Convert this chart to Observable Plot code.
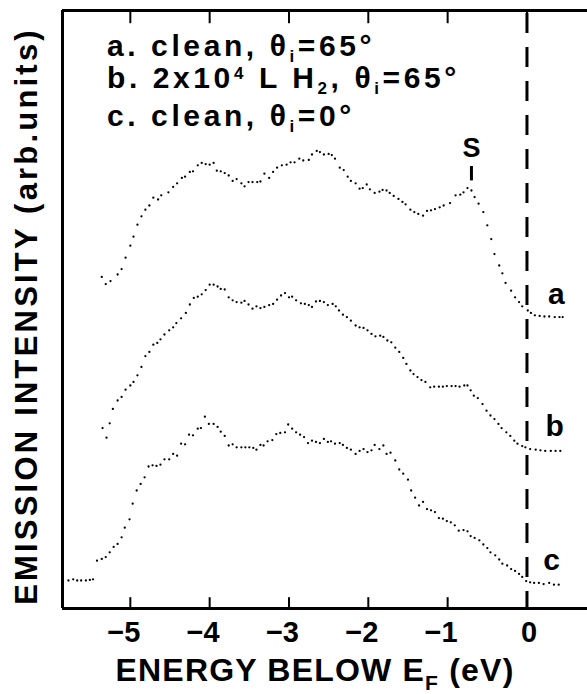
<!DOCTYPE html>
<html><head><meta charset="utf-8">
<script src="https://cdn.jsdelivr.net/npm/d3@7"></script>
<script src="https://cdn.jsdelivr.net/npm/@observablehq/plot@0.6"></script>
<style>html,body{margin:0;padding:0;background:#fff;} svg{display:block}</style>
</head><body><div id="chart"></div>
<script>
// Energy below E_F (eV), emission intensity (arb. units)
const curveA = [[-5.36,55.6],[-5.31,54.4],[-5.25,54.9],[-5.16,56.0],[-5.11,56.9],[-5.06,58.8],[-5.00,60.8],[-4.96,62.3],[-4.91,64.3],[-4.86,65.7],[-4.81,66.8],[-4.76,67.5],[-4.71,68.8],[-4.65,68.5],[-4.61,69.2],[-4.52,69.7],[-4.46,70.6],[-4.41,71.2],[-4.35,72.1],[-4.31,72.3],[-4.25,73.1],[-4.21,73.2],[-4.15,74.2],[-4.10,74.6],[-4.05,74.4],[-4.00,74.3],[-3.95,74.6],[-3.91,73.3],[-3.86,73.2],[-3.81,72.9],[-3.76,72.5],[-3.71,71.6],[-3.66,71.9],[-3.60,71.2],[-3.56,70.7],[-3.51,71.4],[-3.46,71.4],[-3.40,71.4],[-3.36,71.5],[-3.31,72.8],[-3.25,72.1],[-3.20,73.1],[-3.15,73.8],[-3.09,74.2],[-3.03,74.3],[-2.98,74.7],[-2.93,74.7],[-2.87,75.3],[-2.82,75.0],[-2.75,75.1],[-2.71,76.0],[-2.65,76.6],[-2.61,76.4],[-2.56,76.0],[-2.50,76.1],[-2.46,75.9],[-2.42,75.3],[-2.36,73.8],[-2.31,73.4],[-2.26,72.3],[-2.22,71.6],[-2.16,71.2],[-2.11,70.3],[-2.07,70.4],[-2.02,71.0],[-1.98,70.2],[-1.92,69.6],[-1.86,69.8],[-1.82,70.1],[-1.77,70.0],[-1.73,69.6],[-1.68,69.1],[-1.62,68.6],[-1.57,68.1],[-1.53,67.7],[-1.47,66.8],[-1.42,66.4],[-1.37,66.1],[-1.31,65.8],[-1.26,66.6],[-1.21,66.7],[-1.16,66.9],[-1.10,67.2],[-1.05,67.5],[-0.97,67.9],[-0.90,69.2],[-0.84,69.3],[-0.80,69.7],[-0.75,70.4],[-0.70,70.0],[-0.66,68.9],[-0.61,67.8],[-0.55,66.4],[-0.50,64.2],[-0.45,61.9],[-0.41,59.4],[-0.35,57.5],[-0.31,56.2],[-0.27,54.6],[-0.20,53.3],[-0.15,52.2],[-0.10,51.4],[-0.06,50.7],[0.01,50.0],[0.05,49.6],[0.10,49.2],[0.16,49.1],[0.22,49.0],[0.28,49.0],[0.35,48.9],[0.41,48.9],[0.45,48.9]];
const curveB = [[-5.35,30.4],[-5.30,28.8],[-5.26,31.2],[-5.22,33.6],[-5.16,35.0],[-5.11,35.6],[-5.06,36.8],[-5.00,37.5],[-4.96,38.1],[-4.91,39.2],[-4.86,40.6],[-4.81,42.4],[-4.76,43.1],[-4.71,44.3],[-4.66,44.6],[-4.62,45.2],[-4.57,46.0],[-4.51,46.7],[-4.46,47.2],[-4.42,47.9],[-4.36,48.7],[-4.30,49.6],[-4.25,51.0],[-4.20,52.1],[-4.15,52.3],[-4.10,52.7],[-4.05,53.4],[-4.00,54.3],[-3.95,54.3],[-3.90,54.0],[-3.86,53.6],[-3.81,53.5],[-3.76,52.2],[-3.71,51.7],[-3.66,51.4],[-3.60,51.3],[-3.56,51.6],[-3.51,51.0],[-3.46,50.3],[-3.41,50.7],[-3.36,50.4],[-3.31,50.6],[-3.25,50.9],[-3.20,51.1],[-3.15,51.8],[-3.10,52.5],[-3.05,52.9],[-3.00,52.2],[-2.96,52.3],[-2.91,51.7],[-2.85,51.2],[-2.80,51.1],[-2.75,50.9],[-2.71,50.6],[-2.66,51.5],[-2.61,51.6],[-2.56,51.4],[-2.51,50.9],[-2.45,51.1],[-2.41,50.7],[-2.37,50.0],[-2.32,49.3],[-2.27,48.9],[-2.22,48.3],[-2.16,47.5],[-2.11,47.2],[-2.06,47.1],[-2.01,46.7],[-1.96,46.1],[-1.91,45.7],[-1.85,45.8],[-1.81,45.6],[-1.76,45.0],[-1.71,44.7],[-1.66,43.8],[-1.61,43.1],[-1.56,42.1],[-1.52,41.1],[-1.47,40.0],[-1.43,39.4],[-1.38,38.9],[-1.33,38.4],[-1.28,38.1],[-1.22,37.2],[-1.17,37.3],[-1.11,37.3],[-1.06,37.3],[-1.01,37.4],[-0.95,37.4],[-0.90,37.4],[-0.85,37.3],[-0.79,37.5],[-0.75,37.5],[-0.71,36.7],[-0.67,35.8],[-0.62,35.4],[-0.56,34.4],[-0.51,33.3],[-0.46,32.5],[-0.41,31.9],[-0.36,31.1],[-0.32,30.4],[-0.26,29.7],[-0.21,29.1],[-0.16,28.3],[-0.12,27.8],[-0.06,27.4],[-0.02,27.2],[0.04,26.9],[0.11,26.8],[0.17,26.7],[0.23,26.6],[0.30,26.6],[0.36,26.6],[0.42,26.6]];
const curveC = [[-5.78,5.0],[-5.72,5.2],[-5.67,5.0],[-5.62,5.0],[-5.56,5.0],[-5.51,5.1],[-5.47,5.2],[-5.42,8.3],[-5.36,8.6],[-5.31,8.9],[-5.26,9.7],[-5.21,10.6],[-5.16,11.1],[-5.11,12.2],[-5.07,13.8],[-5.01,15.2],[-4.97,17.8],[-4.92,20.0],[-4.87,21.1],[-4.82,22.2],[-4.77,24.0],[-4.72,24.2],[-4.67,24.1],[-4.62,24.3],[-4.57,25.2],[-4.51,25.2],[-4.46,26.1],[-4.41,25.8],[-4.36,27.8],[-4.31,27.7],[-4.26,29.3],[-4.21,29.2],[-4.15,30.3],[-4.11,30.4],[-4.06,32.3],[-4.01,31.1],[-3.95,31.1],[-3.90,30.6],[-3.86,29.8],[-3.81,29.1],[-3.76,27.5],[-3.71,27.7],[-3.66,27.2],[-3.60,27.2],[-3.55,27.2],[-3.50,27.2],[-3.45,27.1],[-3.41,26.8],[-3.36,27.6],[-3.32,27.5],[-3.27,28.2],[-3.21,28.4],[-3.16,29.4],[-3.11,29.6],[-3.05,29.7],[-3.01,31.0],[-2.96,30.3],[-2.91,29.7],[-2.86,29.3],[-2.81,28.9],[-2.76,27.9],[-2.71,28.3],[-2.66,28.1],[-2.61,27.9],[-2.56,28.6],[-2.51,28.1],[-2.47,28.2],[-2.42,27.8],[-2.36,27.9],[-2.32,27.6],[-2.27,27.1],[-2.22,26.8],[-2.16,26.1],[-2.11,26.6],[-2.06,26.9],[-2.01,26.4],[-1.96,26.7],[-1.92,27.6],[-1.86,26.9],[-1.81,27.5],[-1.77,26.1],[-1.72,26.3],[-1.66,25.0],[-1.61,23.5],[-1.56,22.8],[-1.50,21.8],[-1.46,20.0],[-1.41,18.8],[-1.36,17.5],[-1.31,18.1],[-1.26,16.9],[-1.21,16.7],[-1.16,16.4],[-1.11,15.4],[-1.06,15.3],[-1.01,14.9],[-0.96,14.7],[-0.91,14.2],[-0.86,13.3],[-0.80,13.4],[-0.75,13.2],[-0.71,12.4],[-0.66,12.1],[-0.60,11.7],[-0.55,11.0],[-0.50,10.4],[-0.46,9.7],[-0.40,9.2],[-0.35,8.5],[-0.31,7.8],[-0.25,7.5],[-0.20,6.9],[-0.15,6.6],[-0.10,6.1],[-0.06,5.6],[-0.01,4.9],[0.04,4.7],[0.09,4.6],[0.15,4.6],[0.21,4.4],[0.28,4.6],[0.34,4.3],[0.40,4.3]];
const seriesNames = ["a", "b", "c"];
const xTicks = [-5, -4, -3, -2, -1, 0];
const xDomain = [-5.855, 0.763];
const yDomain = [0.333, 100];
const xTitle = ["ENERGY BELOW E", "F", " (eV)"];
const yTitle = "EMISSION INTENSITY (arb.units)";
const peakLabel = "S";

const rows = [curveA, curveB, curveC].flatMap((c, i) => c.map(([E, I]) => ({E, I, series: seriesNames[i]})));
const FONT = "'Liberation Sans', Arial, Helvetica, sans-serif";
const fmt = d => d < 0 ? "\u2212" + Math.abs(d) : String(d);

const svg = Plot.plot({
  width: 587, height: 694,
  marginLeft: 62, marginRight: 0, marginTop: 10, marginBottom: 86,
  style: {background: "white", fontFamily: FONT, color: "black"},
  x: {domain: xDomain, axis: null},
  y: {domain: yDomain, axis: null},
  marks: [
    // dashed Fermi level
    Plot.ruleX([0], {stroke: "black", strokeWidth: 3, strokeDasharray: "20,14", strokeDashoffset: 31}),
    // frame
    Plot.ruleX([xDomain[0]], {stroke: "black", strokeWidth: 3}),
    Plot.ruleY([yDomain[0], yDomain[1]], {stroke: "black", strokeWidth: 3}),
    // inward ticks
    Plot.ruleX(xTicks, {x: d => d, y1: yDomain[0], y2: yDomain[0] + 1.8, stroke: "black", strokeWidth: 2}),
    Plot.ruleX(xTicks, {x: d => d, y1: yDomain[1], y2: yDomain[1] - 2.2, stroke: "black", strokeWidth: 2}),
    // tick labels
    Plot.text(xTicks.filter(d => d < 0), {x: d => d, y: yDomain[0], text: fmt, dy: 33, dx: 10, textAnchor: "end", lineAnchor: "bottom", fontSize: 29, fontWeight: "bold"}),
    Plot.text(xTicks.filter(d => d >= 0), {x: d => d, y: yDomain[0], text: fmt, dy: 33, dx: 2, textAnchor: "middle", lineAnchor: "bottom", fontSize: 29, fontWeight: "bold"}),
    // spectra
    Plot.dot(rows, {x: "E", y: "I", r: 1.15, fill: "black", stroke: null}),
    // curve labels
    Plot.text([{s: "a", E: 0.37, I: 51.0}, {s: "b", E: 0.35, I: 29.0}, {s: "c", E: 0.31, I: 6.7}], {x: "E", y: "I", text: "s", lineAnchor: "bottom", fontSize: 30, fontWeight: "bold"}),
    // S marker
    Plot.text([peakLabel], {x: -0.70, y: 75.5, text: d => d, lineAnchor: "bottom", fontSize: 27, fontWeight: "bold"}),
    Plot.ruleX([-0.70], {y1: 74.0, y2: 71.6, stroke: "black", strokeWidth: 3})
  ]
});

const sx = svg.scale("x"), sy = svg.scale("y");
const d3svg = d3.select(svg);
const legend = [
  [{t: "a. clean, \u03b8"}, {t: "i", sub: true}, {t: "=65\u00b0"}],
  [{t: "b. 2x10"}, {t: "4", sup: true}, {t: " L H"}, {t: "2", sub: true}, {t: ", \u03b8"}, {t: "i", sub: true}, {t: "=65\u00b0"}],
  [{t: "c. clean, \u03b8"}, {t: "i", sub: true}, {t: "=0\u00b0"}]
];
const legendY = [92.4, 87.0, 80.7];
legend.forEach((parts, k) => {
  const t = d3svg.append("text")
    .attr("x", sx.apply(-5.288)).attr("y", sy.apply(legendY[k]))
    .attr("text-anchor", "start")
    .attr("font-family", FONT).attr("font-weight", "bold").attr("font-size", 30)
    .attr("letter-spacing", 3.6).attr("fill", "black");
  let shift = 0;
  parts.forEach(p => {
    const target = p.sub ? 6 : p.sup ? -9 : 0;
    const ts = t.append("tspan").attr("dy", target - shift).text(p.t);
    if (p.sub || p.sup) ts.attr("font-size", 17);
    shift = target;
  });
});

// x title
const xt = d3svg.append("text").attr("x", 315).attr("y", 681).attr("text-anchor", "middle")
  .attr("font-family", FONT).attr("font-weight", "bold").attr("font-size", 32).attr("letter-spacing", 1.2).attr("fill", "black");
xt.append("tspan").text(xTitle[0]);
xt.append("tspan").attr("font-size", 21).attr("dy", 9).text(xTitle[1]);
xt.append("tspan").attr("dy", -9).text(xTitle[2]);

// y title
d3svg.append("text").attr("transform", "translate(37,316) rotate(-90)").attr("text-anchor", "middle")
  .attr("font-family", FONT).attr("font-weight", "bold").attr("font-size", 31).attr("letter-spacing", 3.2).attr("fill", "black")
  .text(yTitle);

document.getElementById("chart").append(svg);
</script>
</body></html>
